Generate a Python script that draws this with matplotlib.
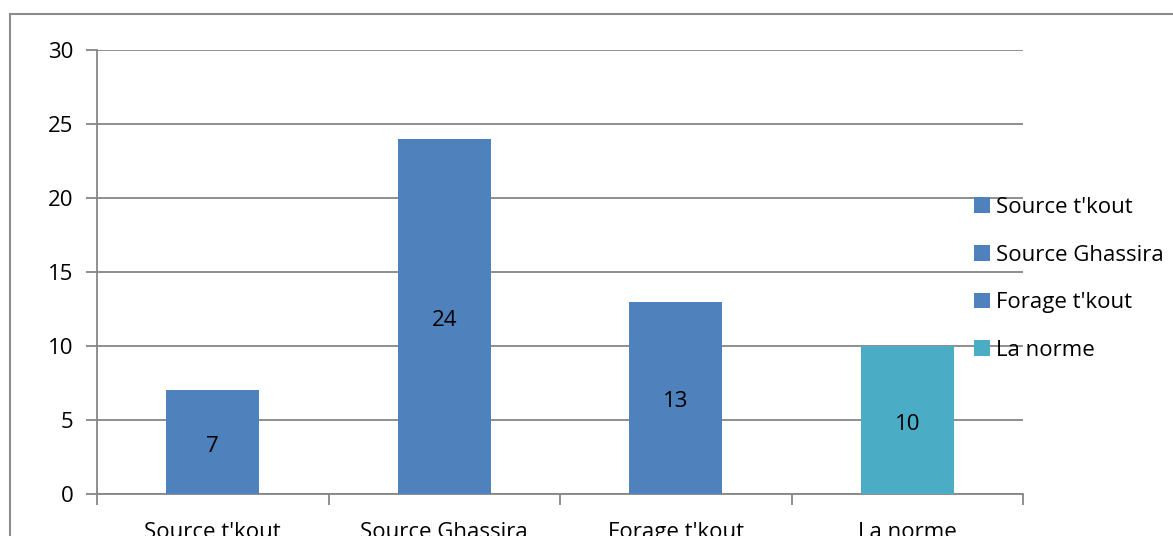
import matplotlib
matplotlib.use('Agg')
import matplotlib.pyplot as plt
from matplotlib.patches import Patch, Rectangle
import numpy as np

# data
categories = ["Source t'kout", "Source Ghassira", "Forage t'kout", "La norme"]
values = [7, 24, 13, 10]
colors = ['#4F81BD', '#4F81BD', '#4F81BD', '#4BACC6']
yticks = [0, 5, 10, 15, 20, 25, 30]

plt.rcParams['font.family'] = ['Open Sans', 'DejaVu Sans']
fs = 16

W, H = 1173, 536
fig = plt.figure(figsize=(W/100, H/100), dpi=100)
ax = fig.add_axes([97/W, 1-494/H, (1023-97)/W, (494-50)/H])

grid_c = '#868686'
x = np.arange(len(categories))
bars = ax.bar(x, values, width=0.4, color=colors, zorder=3)

# value labels centred in the bars (nudged down a few px like the original)
for b, v in zip(bars, values):
    ax.annotate(str(v), (b.get_x()+b.get_width()/2, v/2), xytext=(0, -4),
                textcoords='offset pixels', ha='center', va='center',
                fontsize=fs, color='black', zorder=4)

ax.set_xlim(-0.5, len(categories)-0.5)
ax.set_ylim(0, 30)
ax.set_yticks(yticks)
ax.set_yticklabels([str(t) for t in yticks], fontsize=fs)
ax.yaxis.grid(True, color=grid_c, linewidth=1.3, zorder=0)

# category labels between boundary ticks
ax.set_xticks(np.arange(-0.5, len(categories), 1.0))
ax.set_xticklabels([])
ax.set_xticks(x, minor=True)
ax.set_xticklabels(categories, minor=True, fontsize=fs)
ax.tick_params(axis='x', which='minor', length=0, pad=20)
ax.tick_params(axis='x', which='major', length=8, color=grid_c, width=1.3)
ax.tick_params(axis='y', length=8, color=grid_c, width=1.3, pad=9)

for s in ['top', 'right']:
    ax.spines[s].set_visible(False)
for s in ['left', 'bottom']:
    ax.spines[s].set_color(grid_c)
    ax.spines[s].set_linewidth(1.3)

handles = [Patch(facecolor=c) for c in colors]
leg = fig.legend(handles, categories, loc='center left',
                 bbox_to_anchor=(974/W, 1-279/H), frameon=False,
                 fontsize=fs, handlelength=0.7, handleheight=0.7,
                 handletextpad=0.3, labelspacing=1.2, borderpad=0,
                 borderaxespad=0)

# outer chart frame
fig.patches.append(Rectangle((10/W, -0.1), 1.2, 1-14/H+0.1, transform=fig.transFigure,
                             fill=False, edgecolor='#8c8c8c', linewidth=1.5))

fig.savefig('out.png', dpi=100)
